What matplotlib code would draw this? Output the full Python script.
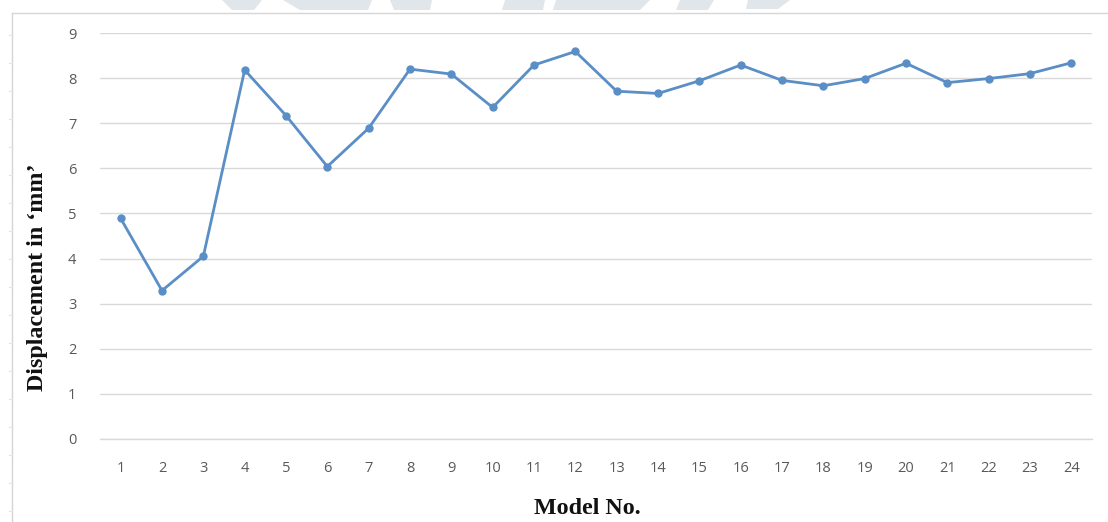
import matplotlib
matplotlib.use("Agg")
import matplotlib.pyplot as plt
from matplotlib.patches import Polygon
from matplotlib.lines import Line2D

models = list(range(1, 25))
displacement = [4.89, 3.29, 4.05, 8.18, 7.17, 6.04, 6.89, 8.20, 8.09, 7.35,
                8.29, 8.59, 7.71, 7.66, 7.94, 8.29, 7.95, 7.83, 7.99, 8.33,
                7.90, 7.99, 8.10, 8.34]
y_ticks = list(range(0, 10))

W, H = 1108, 522
fig = plt.figure(figsize=(W / 100, H / 100), dpi=100)
fig.patch.set_facecolor("white")

def px(x, y):
    return (x / W, 1 - y / H)

# faint watermark shapes at the top
wm_color = "#e0e6ea"
shapes = [
    [(222, 0), (262, 0), (254, 10), (232, 10)],
    [(283, 0), (372, 0), (368, 10), (300, 10)],
    [(390, 0), (432, 0), (430, 10), (394, 10)],
    [(505, 0), (545, 0), (543, 10), (502, 10)],
    [(556, 0), (650, 0), (640, 10), (553, 10)],
    [(680, 0), (714, 0), (708, 10), (676, 10)],
    [(748, 0), (790, 0), (778, 9), (746, 9)],
]
for s in shapes:
    fig.patches.append(Polygon([px(*p) for p in s], closed=True,
                               transform=fig.transFigure, facecolor=wm_color,
                               edgecolor="none", zorder=0))

# outer frame (page edge) lines
frame_c = "#d6d6d6"
fig.lines.append(Line2D([12 / W, 12 / W], [1 - 13 / H, 0], transform=fig.transFigure,
                        color=frame_c, lw=1.0))
fig.lines.append(Line2D([12 / W, 1], [1 - 13 / H, 1 - 13 / H], transform=fig.transFigure,
                        color=frame_c, lw=1.0))
yy = 35
while yy < H:
    fig.lines.append(Line2D([9 / W, 12 / W], [1 - yy / H, 1 - yy / H],
                            transform=fig.transFigure, color="#e2e2e2", lw=0.8))
    yy += 28

ax = fig.add_axes([100 / W, 1 - 439 / H, (1092 - 100) / W, (439 - 33) / H])
ax.set_facecolor("none")

ax.plot(models, displacement, color="#5a8ec6", lw=2.0, marker="o",
        markersize=5, markerfacecolor="#5a8ec6", markeredgecolor="#5a8ec6",
        zorder=3, solid_joinstyle="round")

ax.set_xlim(0.5, 24.5)
ax.set_ylim(0, 9)
ax.set_yticks(y_ticks)
ax.set_xticks(models)
ax.set_xticklabels([str(m) for m in models])
ax.grid(axis="y", color="#d9d9d9", lw=1.0)
ax.set_axisbelow(True)
for sp in ["top", "right", "left"]:
    ax.spines[sp].set_visible(False)
ax.spines["bottom"].set_color("#d9d9d9")
ax.spines["bottom"].set_linewidth(1.0)
ax.tick_params(axis="both", length=0, labelsize=10.5, labelcolor="#595959")
ax.tick_params(axis="y", pad=17)
ax.tick_params(axis="x", pad=16)
for lab in ax.get_xticklabels() + ax.get_yticklabels():
    lab.set_fontfamily("Open Sans")

fig.text(587 / W, 1 - 508 / H, "Model No.", ha="center", va="center",
         family="Liberation Serif", fontweight="bold", fontsize=17.3, color="#111111")
fig.text(38 / W, 1 - 277 / H, "Displacement in \u2018mm\u2019", ha="center", va="center",
         rotation=90, family="Liberation Serif", fontweight="bold", fontsize=17.3,
         color="#111111")

fig.savefig("out.png", dpi=100, facecolor="white")
